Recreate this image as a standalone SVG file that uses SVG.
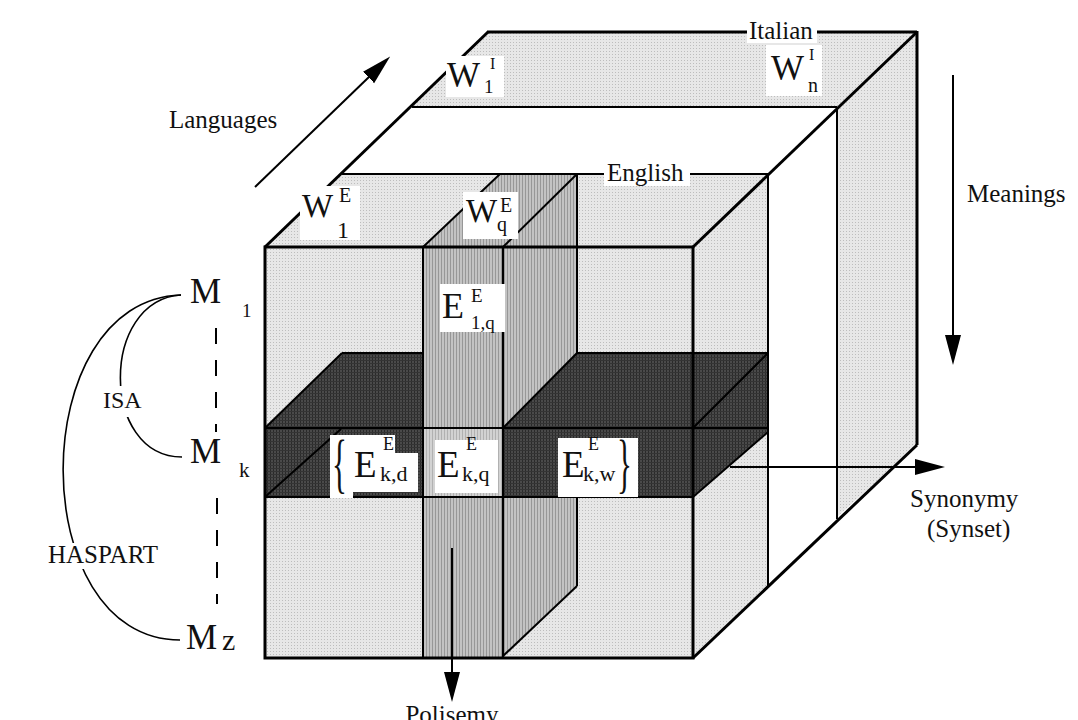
<svg xmlns="http://www.w3.org/2000/svg" width="1078" height="720" viewBox="0 0 1078 720">
<defs>
<pattern id="dots" width="3" height="3" patternUnits="userSpaceOnUse"><rect width="3" height="3" fill="#e7e7e7"/><rect width="1" height="1" fill="#bdbdbd"/></pattern>
<pattern id="stripes" width="3" height="3" patternUnits="userSpaceOnUse"><rect width="3" height="3" fill="#c3c3c3"/><rect width="1" height="3" fill="#979797"/></pattern>
<pattern id="dark" width="3" height="3" patternUnits="userSpaceOnUse"><rect width="3" height="3" fill="#4a4a4a"/><rect width="1" height="3" fill="#2a2a2a"/><rect width="3" height="1" fill="#343434"/></pattern>
<marker id="ah" markerUnits="userSpaceOnUse" markerWidth="32" markerHeight="18" viewBox="0 0 32 18" refX="2" refY="8" orient="auto"><path d="M0,0 L30,8 L0,16 z" fill="#000"/></marker>
</defs>
<style>
.lt{fill:url(#dots)}
.st{fill:url(#stripes)}
.dk{fill:url(#dark)}
.thick{stroke:#000;stroke-width:3;fill:none}
.thin{stroke:#000;stroke-width:2;fill:none}
.arr{stroke:#000;stroke-width:2;fill:none;marker-end:url(#ah)}
.rel{stroke:#000;stroke-width:1.6;fill:none}
.dash{stroke:#000;stroke-width:2;fill:none;stroke-dasharray:16 16}
.bg{fill:#fff}
text{font-family:"Liberation Serif","Times New Roman",serif;fill:#111}
</style>
<rect width="1078" height="720" fill="#fff"/>

<g id="cube">
<g id="italian-slab">
<polygon class="lt" points="412,107 488,32 917,32 837,107"/>
<polygon class="lt" points="837,107 917,32 917,445 837,517"/>
</g>
<g id="english-slab">
<polygon class="lt" points="265,247 342,174 768,174 693,247"/>
<polygon class="lt" points="693,247 768,174 768,587 693,658"/>
<rect class="lt" x="265" y="247" width="428" height="411"/>
</g>
<g id="column-q">
<polygon class="st" points="503,247 577,174 577,586 503,658"/>
<polygon class="st" points="423,247 500,174 577,174 503,247"/>
</g>
<g id="row-k">
<polygon class="dk" points="265,428 342,353 423,353 423,428"/>
<polygon class="dk" points="503,428 577,353 768,353 693,428"/>
<polygon class="dk" points="693,428 768,353 768,432 693,497"/>
<rect class="dk" x="265" y="428" width="428" height="69"/>
</g>
<g id="column-q-front">
<rect class="st" x="423" y="247" width="80" height="411"/>
<rect x="423" y="428" width="80" height="69" fill="#fff" opacity="0.25"/>
</g>
<g id="edges">
<line class="thin" x1="342" y1="174" x2="768" y2="174"/>
<line class="thin" x1="412" y1="107" x2="837" y2="107"/>
<line class="thin" x1="768" y1="174" x2="768" y2="587"/>
<line class="thin" x1="837" y1="107" x2="837" y2="519"/>
<line class="thin" x1="423" y1="247" x2="423" y2="658"/>
<line class="thin" x1="503" y1="247" x2="503" y2="658"/>
<line class="thin" x1="423" y1="247" x2="500" y2="174"/>
<line class="thin" x1="503" y1="247" x2="577" y2="174"/>
<line class="thin" x1="577" y1="174" x2="577" y2="353"/>
<line class="thin" x1="577" y1="497" x2="577" y2="586"/>
<line class="thin" x1="577" y1="586" x2="503" y2="656"/>
<line class="thin" x1="265" y1="428" x2="342" y2="353"/>
<line class="thin" x1="342" y1="353" x2="423" y2="353"/>
<line class="thin" x1="577" y1="353" x2="768" y2="353"/>
<line class="thin" x1="577" y1="353" x2="503" y2="428"/>
<line class="thin" x1="693" y1="428" x2="768" y2="353"/>
<line class="thin" x1="265" y1="428" x2="768" y2="428"/>
<line class="thin" x1="265" y1="497" x2="693" y2="497"/>
<line class="thin" x1="693" y1="497" x2="768" y2="432"/>
<line class="thin" x1="265" y1="497" x2="341" y2="429"/>
<rect class="thick" x="265" y="247" width="428" height="411"/>
<line class="thick" x1="265" y1="247" x2="488" y2="32"/>
<line class="thick" x1="487" y1="32" x2="917" y2="32"/>
<line class="thick" x1="917" y1="31" x2="917" y2="445"/>
<line class="thick" x1="693" y1="247" x2="917" y2="32"/>
<line class="thick" x1="693" y1="658" x2="917" y2="445"/>
</g>
</g>

<g id="connectors">
<line class="arr" x1="255" y1="187" x2="370" y2="76"/>
<line class="arr" x1="953" y1="75" x2="953" y2="337"/>
<line class="arr" x1="730" y1="467" x2="917" y2="467"/>
<line class="arr" x1="452" y1="548" x2="452" y2="674"/>
<path class="rel" d="M181,295 C100,300 100,457 182,457"/>
<path class="rel" d="M181,295 C24,300 24,640 180,640"/>
<line class="dash" x1="216" y1="328" x2="216" y2="432"/>
<line class="dash" x1="217" y1="498" x2="217" y2="604"/>
</g>

<g id="label-italian"><rect class="bg" x="747" y="21" width="70" height="22"/><text x="749" y="39" font-size="25">Italian</text></g>
<g id="label-english"><rect class="bg" x="604" y="161" width="86" height="25"/><text x="607" y="181" font-size="25">English</text></g>
<g id="label-languages"><text x="169" y="128" font-size="25">Languages</text></g>
<g id="label-meanings"><text x="967" y="202" font-size="25">Meanings</text></g>
<g id="label-synonymy"><text x="910" y="507" font-size="25">Synonymy</text><text x="927" y="537" font-size="25">(Synset)</text></g>
<g id="label-polisemy"><text x="452" y="723" font-size="25" text-anchor="middle">Polisemy</text></g>
<g id="label-isa"><rect class="bg" x="100" y="386" width="47" height="31"/><text x="103" y="408" font-size="24">ISA</text></g>
<g id="label-haspart"><rect class="bg" x="46" y="543" width="122" height="26"/><text x="48" y="563" font-size="25">HASPART</text></g>

<g id="node-m1"><text x="190" y="303" font-size="35">M<tspan x="242" y="317" font-size="19">1</tspan></text></g>
<g id="node-mk"><text x="190" y="463" font-size="35">M<tspan x="239" y="477" font-size="21">k</tspan></text></g>
<g id="node-mz"><text x="186" y="649" font-size="35">M<tspan x="222" y="650" font-size="30">z</tspan></text></g>

<g id="node-w1e"><rect class="bg" x="300" y="186" width="60" height="54"/><text x="302" y="217" font-size="33">W<tspan x="339" y="202" font-size="20">E</tspan><tspan x="337" y="238" font-size="24">1</tspan></text></g>
<g id="node-wqe"><rect class="bg" x="463" y="192" width="55" height="47"/><text x="466" y="222" font-size="33">W<tspan x="500" y="212" font-size="20">E</tspan><tspan x="497" y="231" font-size="20">q</tspan></text></g>
<g id="node-w1i"><rect class="bg" x="446" y="56" width="58" height="41"/><text x="447" y="87" font-size="35">W<tspan x="490" y="69" font-size="16">I</tspan><tspan x="484" y="93" font-size="19">1</tspan></text></g>
<g id="node-wni"><rect class="bg" x="766" y="45" width="56" height="51"/><text x="771" y="80" font-size="35">W<tspan x="809" y="60" font-size="16">I</tspan><tspan x="808" y="92" font-size="20">n</tspan></text></g>

<g id="node-e1q"><rect class="bg" x="440" y="284" width="65" height="48"/><text x="442" y="318" font-size="36">E<tspan x="471" y="302" font-size="19">E</tspan><tspan x="471" y="329" font-size="19">1,q</tspan></text></g>
<g id="node-ekd"><path class="bg" d="M330,435 H395 V453 H418 V492 H353 V498 H330 Z"/><text transform="translate(332,485) scale(0.62,1.3)" font-size="50">{</text><text x="354" y="477" font-size="37">E<tspan x="383" y="450" font-size="18">E</tspan><tspan x="380" y="481" font-size="22">k,d</tspan></text></g>
<g id="node-ekq"><rect class="bg" x="435" y="440" width="63" height="53"/><text x="437" y="477" font-size="37">E<tspan x="466" y="450" font-size="18">E</tspan><tspan x="462" y="481" font-size="22">k,q</tspan></text></g>
<g id="node-ekw"><rect class="bg" x="558" y="438" width="80" height="59"/><text x="562" y="477" font-size="37">E<tspan x="588" y="450" font-size="18">E</tspan><tspan x="583" y="481" font-size="22">k,w</tspan></text><text transform="translate(617,485) scale(0.62,1.3)" font-size="50">}</text></g>
</svg>
